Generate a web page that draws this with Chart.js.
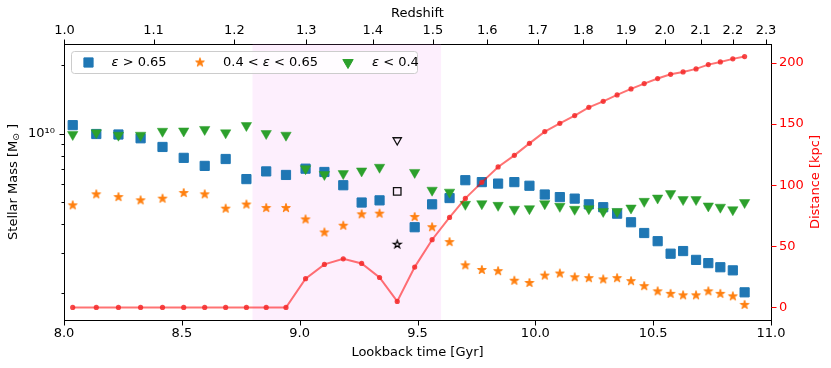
<!DOCTYPE html>
<html>
<head>
<meta charset="utf-8">
<script src="https://cdn.jsdelivr.net/npm/chart.js"></script>
<style>
  body { margin: 0; background: #fff; }
  #wrap { width: 831px; height: 368px; }
</style>
</head>
<body>
<div id="wrap"><canvas id="graph"></canvas></div>
<script>
// lookback time of each snapshot [Gyr]
let lookbackTime = [8.037, 8.137, 8.231, 8.325, 8.418, 8.508, 8.597, 8.686, 8.774, 8.858,
    8.942, 9.025, 9.105, 9.185, 9.263, 9.339, 9.414, 9.488, 9.562, 9.636,
    9.703, 9.773, 9.842, 9.911, 9.975, 10.040, 10.104, 10.167, 10.227, 10.288,
    10.347, 10.406, 10.462, 10.519, 10.574, 10.627, 10.682, 10.734, 10.785, 10.838, 10.888];

// stellar mass [Msun] per circularity bin
let massHigh = [1.088e10, 9.95e9, 9.90e9, 9.53e9, 8.73e9, 7.82e9, 7.21e9, 7.73e9, 6.31e9, 6.82e9,
    6.58e9, 7.01e9, 6.78e9, 5.93e9, 4.98e9, 5.09e9, 5.57e9, 3.88e9, 4.89e9, 5.21e9,
    6.24e9, 6.12e9, 6.03e9, 6.12e9, 5.90e9, 5.40e9, 5.26e9, 5.18e9, 4.89e9, 4.75e9,
    4.45e9, 4.08e9, 3.66e9, 3.37e9, 2.97e9, 3.05e9, 2.79e9, 2.70e9, 2.59e9, 2.51e9, 2.01e9];
let massMid = [4.84e9, 5.41e9, 5.26e9, 5.09e9, 5.18e9, 5.48e9, 5.41e9, 4.68e9, 4.88e9, 4.71e9,
    4.71e9, 4.20e9, 3.68e9, 3.94e9, 4.42e9, 4.45e9, 3.26e9, 4.30e9, 3.88e9, 3.34e9,
    2.64e9, 2.52e9, 2.49e9, 2.26e9, 2.21e9, 2.38e9, 2.43e9, 2.34e9, 2.32e9, 2.29e9,
    2.32e9, 2.25e9, 2.14e9, 2.03e9, 1.98e9, 1.95e9, 1.95e9, 2.03e9, 1.98e9, 1.93e9, 1.77e9];
let massLow = [9.90e9, 1.007e10, 9.83e9, 9.83e9, 1.023e10, 1.026e10, 1.042e10, 1.007e10, 1.084e10, 1.0e10,
    9.83e9, 7.01e9, 6.61e9, 6.67e9, 6.85e9, 7.11e9, 9.35e9, 6.75e9, 5.64e9, 5.53e9,
    4.89e9, 4.92e9, 4.84e9, 4.65e9, 4.68e9, 4.92e9, 4.79e9, 4.65e9, 4.68e9, 4.55e9,
    4.55e9, 4.71e9, 5.04e9, 5.21e9, 5.45e9, 5.13e9, 5.13e9, 4.81e9, 4.75e9, 4.63e9, 4.98e9];

// separation [kpc]
let distance = [0, 0, 0, 0, 0, 0, 0, 0, 0, 0,
    0, 23.5, 35.2, 39.8, 36.0, 24.5, 4.9, 33.0, 55.4, 73.6,
    89.2, 102.3, 114.9, 124.4, 134.2, 143.8, 150.6, 156.9, 163.7, 168.6,
    173.8, 178.7, 183.1, 187.2, 190.7, 192.6, 195.1, 198.6, 200.8, 203.3, 205.2];

// snapshot drawn with open black markers
let pericentreIndex = 16;
let shadedRange = [8.8, 9.6];

let lookbackTicks = [8.0, 8.5, 9.0, 9.5, 10.0, 10.5, 11.0];
let redshiftTicks = [1.0, 1.1, 1.2, 1.3, 1.4, 1.5, 1.6, 1.7, 1.8, 1.9, 2.0, 2.1, 2.2, 2.3];
let redshiftTickTime = [8.002, 8.380, 8.723, 9.028, 9.310, 9.565, 9.796, 10.010, 10.204,
    10.385, 10.549, 10.701, 10.838, 10.979];
let distanceTicks = [0, 50, 100, 150, 200];
let massTicks = [2e9, 3e9, 4e9, 5e9, 6e9, 7e9, 8e9, 9e9, 1e10, 2e10];

const blue = '#1f77b4', orange = '#ff7f0e', green = '#2ca02c';

function starImage(R, fill, stroke, lw) {
    let size = Math.ceil(2 * R + 2 * lw + 2);
    let c = document.createElement('canvas');
    c.width = c.height = size;
    let g = c.getContext('2d');
    let r = R * 0.381966, m = size / 2;
    g.beginPath();
    for (let i = 0; i < 10; i++) {
        let a = -Math.PI / 2 + i * Math.PI / 5;
        let rr = i % 2 ? r : R;
        g.lineTo(m + rr * Math.cos(a), m + rr * Math.sin(a));
    }
    g.closePath();
    if (fill) { g.fillStyle = fill; g.fill(); }
    g.strokeStyle = stroke; g.lineWidth = lw; g.lineJoin = 'miter';
    g.stroke();
    return c;
}
const orangeStar = starImage(4.6, orange, orange, 1);
const openStar = starImage(4.0, null, '#000', 1.2);

function points(ys, skip) {
    let out = [];
    lookbackTime.forEach((t, i) => { if (i !== skip) out.push({x: t, y: ys[i]}); });
    return out;
}

Chart.defaults.font.family = 'DejaVu Sans';
Chart.defaults.font.size = 13;
Chart.defaults.color = '#000';

const band = {
    id: 'band',
    beforeDatasetsDraw(chart) {
        const {ctx, chartArea: a, scales} = chart;
        let x1 = scales.x.getPixelForValue(shadedRange[0]);
        let x2 = scales.x.getPixelForValue(shadedRange[1]);
        ctx.save();
        ctx.fillStyle = 'rgba(238,130,238,0.13)';
        ctx.fillRect(x1, a.top, x2 - x1, a.bottom - a.top);
        ctx.restore();
    }
};

function mathText(ctx, parts, x, y) {
    parts.forEach(([s, it]) => {
        ctx.font = (it ? 'italic ' : '') + '13px "DejaVu Sans"';
        ctx.fillText(s, x, y);
        x += ctx.measureText(s).width;
    });
}

const boxLegend = {
    id: 'boxLegend',
    afterDatasetsDraw(chart) {
        const {ctx, chartArea: a} = chart;
        let x0 = Math.round(a.left) + 7.5, y0 = Math.round(a.top) + 7.5, w = 346, h = 22;
        ctx.save();
        ctx.fillStyle = 'rgba(255,255,255,0.8)';
        ctx.strokeStyle = '#cccccc';
        ctx.lineWidth = 1;
        ctx.beginPath();
        ctx.roundRect(x0, y0, w, h, 3);
        ctx.fill();
        ctx.stroke();
        let cy = y0 + 11;
        let items = [
            {style: 'rect', radius: 6.5, rot: 0, color: blue, mx: 17, tx: 40,
             parts: [['ε', 1], [' > 0.65', 0]]},
            {style: orangeStar, radius: 5, rot: 0, color: orange, mx: 128.5, tx: 151.5,
             parts: [['0.4 < ', 0], ['ε', 1], [' < 0.65', 0]]},
            {style: 'triangle', radius: 6, rot: 180, color: green, mx: 276.5, tx: 300.5,
             parts: [['ε', 1], [' < 0.4', 0]]}
        ];
        items.forEach(it => {
            ctx.fillStyle = it.color;
            ctx.strokeStyle = it.color;
            ctx.lineWidth = 1;
            Chart.helpers.drawPoint(ctx, {pointStyle: it.style, radius: it.radius, rotation: it.rot, borderWidth: 1},
                x0 + it.mx, cy);
            ctx.fillStyle = '#000';
            ctx.textBaseline = 'middle';
            ctx.textAlign = 'left';
            mathText(ctx, it.parts, x0 + it.tx, cy);
        });
        ctx.restore();
    }
};

const axisExtras = {
    id: 'axisExtras',
    afterDraw(chart) {
        const {ctx, chartArea: a, scales} = chart;
        ctx.save();
        ctx.lineWidth = 1;
        function tick(x1, y1, x2, y2, col) {
            ctx.strokeStyle = col;
            ctx.beginPath(); ctx.moveTo(x1, y1); ctx.lineTo(x2, y2); ctx.stroke();
        }
        let B = Math.round(a.bottom) + 0.5, T = Math.round(a.top) + 0.5;
        let L = Math.round(a.left) + 0.5, R = Math.round(a.right) + 0.5;
        scales.x.ticks.forEach(t => {
            let p = Math.round(scales.x.getPixelForValue(t.value)) + 0.5;
            tick(p, B, p, B + 5, '#000');
        });
        scales.x2.ticks.forEach(t => {
            let p = Math.round(scales.x2.getPixelForValue(t.value)) + 0.5;
            tick(p, T, p, T - 5, '#000');
        });
        scales.y.ticks.forEach(t => {
            let p = Math.round(scales.y.getPixelForValue(t.value)) + 0.5;
            tick(L, p, L - (t.value === 1e10 ? 5 : 3), p, '#000');
        });
        scales.y2.ticks.forEach(t => {
            let p = Math.round(scales.y2.getPixelForValue(t.value)) + 0.5;
            tick(R, p, R + 5, p, 'red');
        });

        let cy = (a.top + a.bottom) / 2;
        // left title with subscript sun symbol
        ctx.save();
        ctx.translate(14, cy);
        ctx.rotate(-Math.PI / 2);
        ctx.textBaseline = 'middle';
        ctx.textAlign = 'left';
        ctx.fillStyle = '#000';
        ctx.font = '13px "DejaVu Sans"';
        let p1 = 'Stellar Mass [M', p3 = ' ]';
        let w1 = ctx.measureText(p1).width, w3 = ctx.measureText(p3).width;
        ctx.font = '9px "DejaVu Sans"';
        let w2 = ctx.measureText('⊙').width;
        let x = -(w1 + w2 + w3) / 2;
        ctx.font = '13px "DejaVu Sans"';
        ctx.fillText(p1, x, 0);
        ctx.font = '9px "DejaVu Sans"';
        ctx.fillText('⊙', x + w1, 3);
        ctx.font = '13px "DejaVu Sans"';
        ctx.fillText(p3, x + w1 + w2, 0);
        ctx.restore();
        // right title, reading upwards
        ctx.save();
        ctx.translate(816, cy);
        ctx.rotate(-Math.PI / 2);
        ctx.textBaseline = 'middle';
        ctx.textAlign = 'center';
        ctx.fillStyle = 'red';
        ctx.font = '13px "DejaVu Sans"';
        ctx.fillText('Distance [kpc]', 0, 0);
        ctx.restore();
        ctx.restore();
    }
};

const noGrid = {display: false, drawTicks: false};
const frame = {display: true, color: '#000', width: 1};

let graph = document.getElementById('graph').getContext('2d');
let stat = new Chart(graph, {
    type: 'scatter',
    data: {
        datasets: [
            {
                label: 'distance',
                data: points(distance, -1),
                yAxisID: 'y2',
                showLine: true,
                borderColor: 'rgba(255,0,0,0.55)',
                borderWidth: 2,
                pointStyle: 'circle',
                pointRadius: 2.6,
                pointBackgroundColor: 'rgba(245,40,40,0.85)',
                pointBorderWidth: 0,
                order: 0
            },
            {
                label: 'pericentre',
                data: [
                    {x: lookbackTime[pericentreIndex], y: massHigh[pericentreIndex]},
                    {x: lookbackTime[pericentreIndex], y: massMid[pericentreIndex]},
                    {x: lookbackTime[pericentreIndex], y: massLow[pericentreIndex]}
                ],
                pointStyle: ['rect', openStar, 'triangle'],
                pointRotation: [0, 0, 180],
                pointRadius: [5.3, 5, 4.8],
                backgroundColor: 'rgba(0,0,0,0)',
                borderColor: '#111',
                pointBorderWidth: 1.3,
                order: 1
            },
            {
                label: 'ε < 0.4',
                data: points(massLow, pericentreIndex),
                pointStyle: 'triangle',
                pointRotation: 180,
                pointRadius: 6,
                backgroundColor: green,
                borderColor: green,
                pointBorderWidth: 0.5,
                order: 2
            },
            {
                label: '0.4 < ε < 0.65',
                data: points(massMid, pericentreIndex),
                pointStyle: orangeStar,
                pointRadius: 5,
                backgroundColor: orange,
                borderColor: orange,
                order: 3
            },
            {
                label: 'ε > 0.65',
                data: points(massHigh, pericentreIndex),
                pointStyle: 'rect',
                pointRadius: 6.5,
                backgroundColor: blue,
                borderColor: blue,
                pointBorderWidth: 1,
                order: 4
            }
        ]
    },
    options: {
        responsive: true,
        maintainAspectRatio: false,
        animation: false,
        devicePixelRatio: 1,
        layout: {padding: 0},
        plugins: {legend: {display: false}, tooltip: {enabled: false}},
        scales: {
            x: {
                type: 'linear', position: 'bottom', min: 8, max: 11, bounds: 'data',
                afterBuildTicks: s => { s.ticks = lookbackTicks.map(v => ({value: v})); },
                afterFit: s => { s.height = 48; },
                grid: noGrid, border: frame,
                ticks: {padding: 6, autoSkip: false, maxRotation: 0, callback: v => v.toFixed(1)},
                title: {display: true, text: 'Lookback time [Gyr]', padding: {top: 0, bottom: 8}}
            },
            x2: {
                type: 'linear', position: 'top', min: 8, max: 11, bounds: 'data',
                afterBuildTicks: s => { s.ticks = redshiftTickTime.map(v => ({value: v})); },
                afterFit: s => { s.height = 44; },
                grid: noGrid, border: frame,
                ticks: {padding: 6, autoSkip: false, maxRotation: 0,
                        callback: (v, i) => redshiftTicks[i].toFixed(1)},
                title: {display: true, text: 'Redshift', padding: {top: 6, bottom: 0}}
            },
            y: {
                type: 'logarithmic', position: 'left', min: 1.52e9, max: 2.47e10, bounds: 'data',
                afterBuildTicks: s => { s.ticks = massTicks.map(v => ({value: v})); },
                afterFit: s => { s.width = 64; },
                grid: noGrid, border: frame,
                ticks: {padding: 9, autoSkip: false, callback: v => v === 1e10 ? '10¹⁰' : ''}
            },
            y2: {
                type: 'linear', position: 'right', min: -10.26, max: 215.46, bounds: 'data',
                afterBuildTicks: s => { s.ticks = distanceTicks.map(v => ({value: v})); },
                afterFit: s => { s.width = 60; },
                grid: noGrid, border: frame,
                ticks: {padding: 8, autoSkip: false, color: 'red', callback: v => String(v)}
            }
        }
    },
    plugins: [band, boxLegend, axisExtras]
});
</script>
</body>
</html>
